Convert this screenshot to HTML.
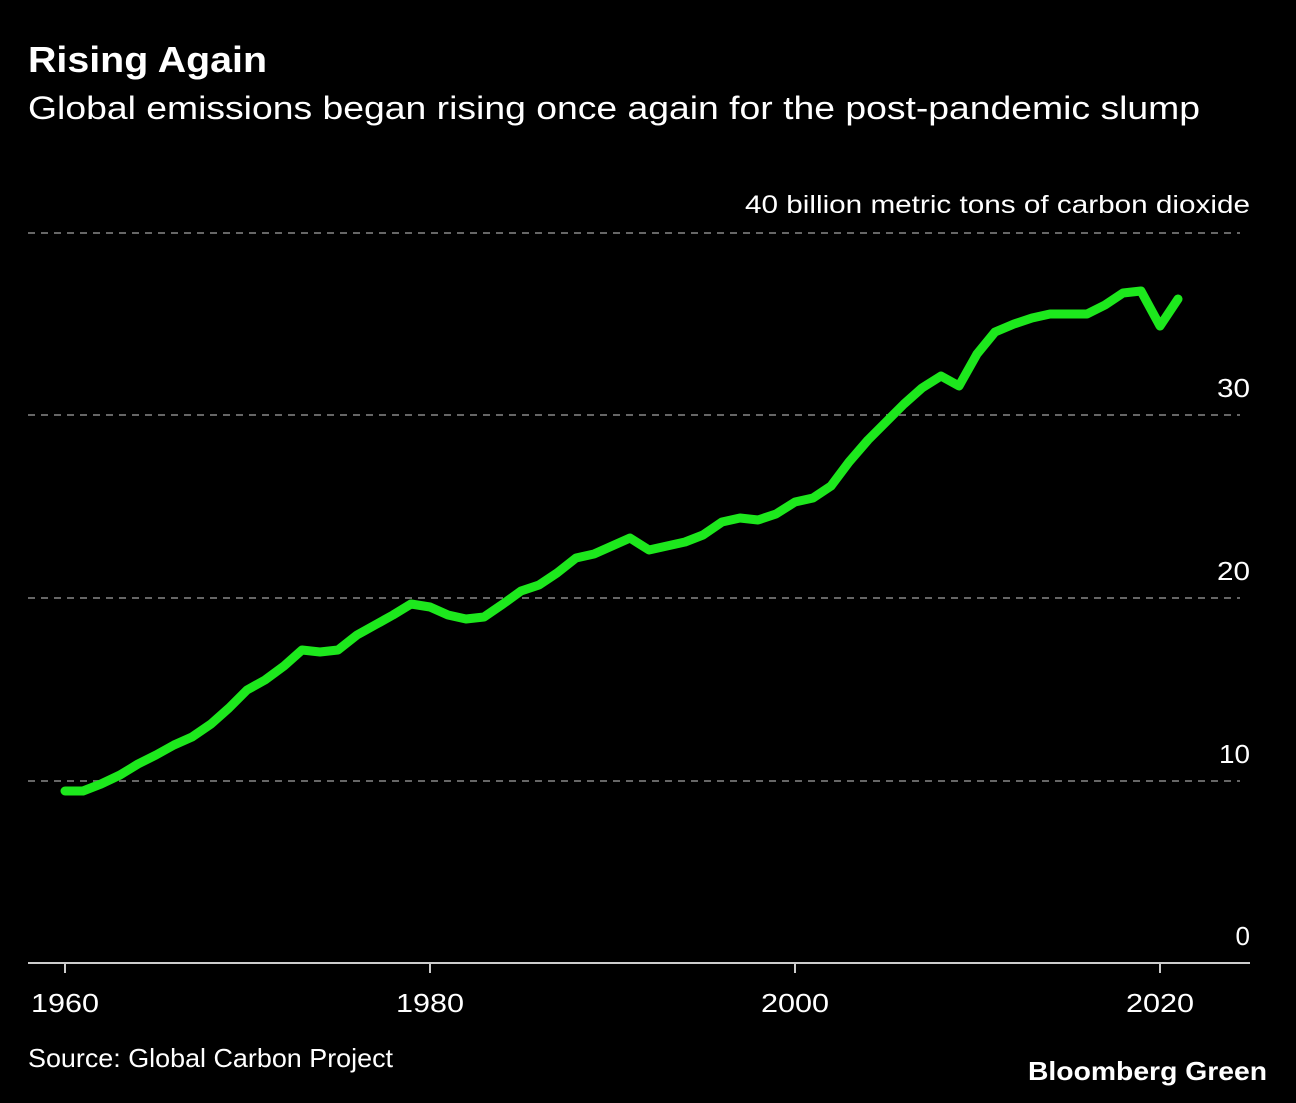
<!DOCTYPE html>
<html><head><meta charset="utf-8"><style>
html,body{margin:0;padding:0;background:#000;}
body{width:1296px;height:1098px;overflow:hidden;font-family:"Liberation Sans",sans-serif;}
</style></head><body>
<svg width="1296" height="1098" xmlns="http://www.w3.org/2000/svg" font-family="Liberation Sans, sans-serif">
<rect width="1296" height="1098" fill="#000"/>
<text x="28" y="72" fill="#fff" font-size="36" font-weight="bold" textLength="239" lengthAdjust="spacingAndGlyphs">Rising Again</text>
<text x="28" y="119" fill="#fff" font-size="32" textLength="1172" lengthAdjust="spacingAndGlyphs">Global emissions began rising once again for the post-pandemic slump</text>
<text x="745" y="213" fill="#fff" font-size="25" textLength="505" lengthAdjust="spacingAndGlyphs">40 billion metric tons of carbon dioxide</text>
<g stroke="#666" stroke-width="2" stroke-dasharray="7,6">
<line x1="28" y1="233" x2="1240" y2="233"/>
<line x1="28" y1="415" x2="1240" y2="415"/>
<line x1="28" y1="598" x2="1240" y2="598"/>
<line x1="28" y1="781" x2="1240" y2="781"/>
</g>
<g fill="#fff" font-size="26" text-anchor="end">
<text x="1250" y="397" textLength="33" lengthAdjust="spacingAndGlyphs">30</text>
<text x="1250" y="580" textLength="33" lengthAdjust="spacingAndGlyphs">20</text>
<text x="1250" y="763" textLength="31" lengthAdjust="spacingAndGlyphs">10</text>
<text x="1250" y="945">0</text>
</g>
<line x1="28" y1="963" x2="1250" y2="963" stroke="#ccc" stroke-width="2"/>
<g stroke="#ccc" stroke-width="2">
<line x1="65" y1="963" x2="65" y2="973"/><line x1="430" y1="963" x2="430" y2="973"/>
<line x1="795" y1="963" x2="795" y2="973"/><line x1="1160" y1="963" x2="1160" y2="973"/>
</g>
<g fill="#fff" font-size="26">
<text x="31" y="1012" textLength="68" lengthAdjust="spacingAndGlyphs">1960</text>
<text x="396" y="1012" textLength="68" lengthAdjust="spacingAndGlyphs">1980</text>
<text x="761" y="1012" textLength="68" lengthAdjust="spacingAndGlyphs">2000</text>
<text x="1126" y="1012" textLength="68" lengthAdjust="spacingAndGlyphs">2020</text>
</g>
<polyline fill="none" stroke="#1de81d" stroke-width="9" stroke-linejoin="round" stroke-linecap="round" points="65,791 83,791 101,784 120,775 138,764 156,755 174,745 192,737 211,724 229,708 247,690 265,680 284,666 302,650 320,652 338,650 357,635 375,625 393,615 411,604 430,607 448,615 466,619 484,617 503,604 521,591 539,585 557,573 576,558 594,554 612,546 630,538 649,550 667,546 685,542 703,535 722,522 740,518 758,520 776,514 795,502 813,498 831,486 849,462 868,440 886,422 904,404 922,388 941,376 959,386 977,354 995,332 1014,324 1032,318 1050,314 1068,314 1087,314 1105,305 1123,293 1141,291 1160,326 1178,299"/>
<text x="28" y="1067" fill="#fff" font-size="26" textLength="365" lengthAdjust="spacingAndGlyphs">Source: Global Carbon Project</text>
<text x="1028" y="1080" fill="#fff" font-size="26" font-weight="bold" textLength="239" lengthAdjust="spacingAndGlyphs">Bloomberg Green</text>
</svg>
</body></html>
